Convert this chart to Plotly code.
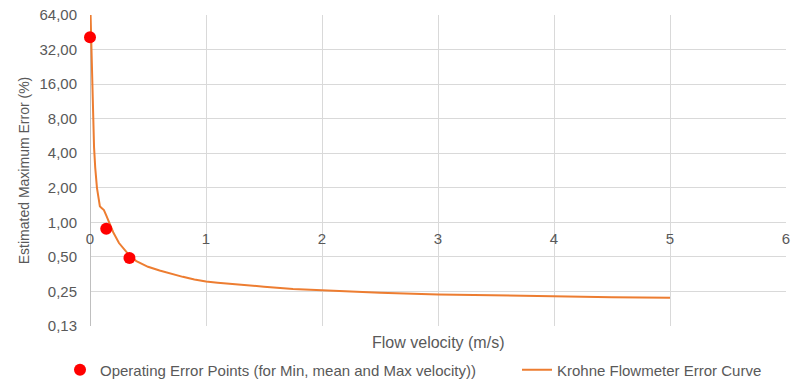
import plotly.graph_objects as go
import math

# Krohne flowmeter error curve
curve_x = [0.005, 0.01, 0.015, 0.02, 0.025, 0.035, 0.045, 0.06, 0.075, 0.085, 0.1, 0.12, 0.14,
           0.16, 0.2, 0.25, 0.3, 0.35, 0.4, 0.5, 0.6, 0.7, 0.8, 0.9, 1.0, 1.1, 1.25, 1.5, 1.75,
           2.0, 2.5, 3.0, 3.5, 4.0, 4.5, 5.0]
curve_y = [64, 40, 22, 12, 8, 4.5, 3.0, 2.0, 1.6, 1.38, 1.33, 1.28, 1.15,
           1.02, 0.82, 0.66, 0.57, 0.5, 0.46, 0.41, 0.38, 0.355, 0.335, 0.318, 0.305, 0.298,
           0.288, 0.275, 0.263, 0.255, 0.243, 0.235, 0.23, 0.227, 0.223, 0.22]

# Operating error points
pts_x = [0.0, 0.14, 0.34]
pts_y = [41.0, 0.88, 0.49]

y_tickvals = [0.125, 0.25, 0.5, 1, 2, 4, 8, 16, 32, 64]
y_ticktext = ["0,13", "0,25", "0,50", "1,00", "2,00", "4,00", "8,00", "16,00", "32,00", "64,00"]
x_tickvals = [0, 1, 2, 3, 4, 5, 6]

grey = "#595959"
fnt = "Liberation Sans, Arial, sans-serif"

fig = go.Figure()
fig.add_trace(go.Scatter(
    x=curve_x, y=curve_y, mode="lines",
    name="Krohne Flowmeter Error Curve",
    line=dict(color="#ED7D31", width=2),
    legend="legend2",
))
fig.add_trace(go.Scatter(
    x=pts_x, y=pts_y, mode="markers",
    name="Operating Error Points (for Min, mean and Max velocity))",
    marker=dict(color="#FF0000", size=12),
    cliponaxis=False,
    legend="legend",
))

ylo, yhi = math.log10(0.125), math.log10(64)
pos = (0 - ylo) / (yhi - ylo)

fig.update_layout(
    width=794, height=380,
    margin=dict(l=90, r=8, t=15, b=54, autoexpand=False),
    paper_bgcolor="white", plot_bgcolor="white",
    font=dict(family=fnt, size=15, color=grey),
    xaxis=dict(
        range=[0, 6], tickvals=x_tickvals, ticktext=[str(v) for v in x_tickvals],
        showgrid=True, gridcolor="#d9d9d9", gridwidth=1,
        zeroline=True, zerolinecolor="#bfbfbf", zerolinewidth=1,
        showline=False, ticks="",
        anchor="free", position=pos,
        ticklabelstandoff=6,
        tickfont=dict(size=15, color=grey),
    ),
    yaxis=dict(
        type="log", range=[ylo, yhi],
        tickvals=y_tickvals, ticktext=y_ticktext,
        showgrid=True, gridcolor="#d9d9d9", gridwidth=1,
        showline=False, ticks="", zeroline=False,
        ticklabelstandoff=12,
        tickfont=dict(size=15, color=grey),
        title=dict(text="Estimated Maximum Error (%)", font=dict(size=14, color=grey), standoff=6),
    ),
    legend=dict(
        orientation="h", xref="container", yref="container",
        x=60 / 794, y=10 / 380, xanchor="left", yanchor="middle",
        font=dict(size=15, color=grey), bgcolor="rgba(0,0,0,0)",
    ),
    legend2=dict(
        orientation="h", xref="container", yref="container",
        x=517 / 794, y=10 / 380, xanchor="left", yanchor="middle",
        font=dict(size=15, color=grey), bgcolor="rgba(0,0,0,0)",
    ),
    showlegend=True,
)

fig.add_annotation(
    text="Flow velocity (m/s)", xref="paper", yref="paper",
    x=0.5, y=0, yshift=-16, xanchor="center", yanchor="middle",
    showarrow=False, font=dict(size=16, color=grey),
)

fig.write_html("out.html")
